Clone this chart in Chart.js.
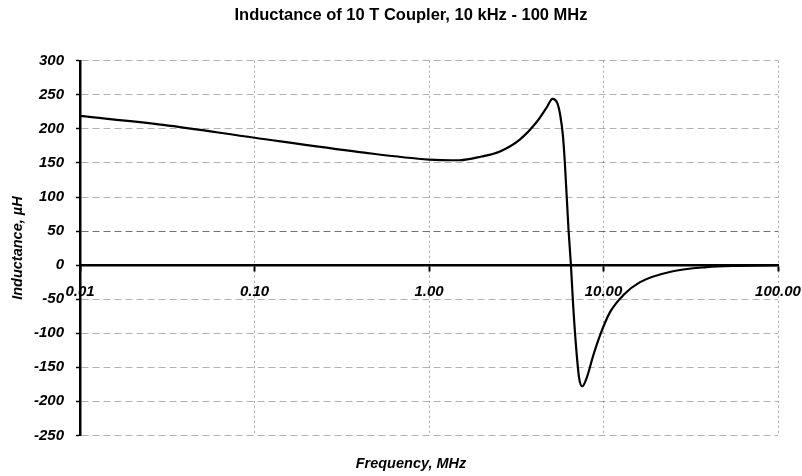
<!DOCTYPE html>
<html>
<head>
<meta charset="utf-8">
<title>Inductance of 10 T Coupler</title>
<script src="https://cdn.jsdelivr.net/npm/chart.js@4/dist/chart.umd.min.js"></script>
<style>
  html, body { margin: 0; padding: 0; background: #fff; }
  canvas { display: block; }
</style>
</head>
<body>
<canvas id="chart" width="802" height="476"></canvas>
<script>
// values
const freqMHz = [0.01, 0.03, 0.1, 0.4, 1.0, 1.5, 2.0, 2.55, 3.3, 4.15, 4.75, 5.1, 5.45, 5.65,
  5.85, 6.0, 6.3, 6.5, 6.7, 6.95, 7.25, 7.55, 8.0, 8.75, 9.55, 10.9, 13, 16.2, 25, 39, 60, 100];
const inductanceUH = [219, 206, 187, 166, 155, 154, 159.5, 167, 184, 210.5, 232.5, 244, 237, 220,
  191, 152, 53, 2, -59, -117, -166, -178, -166, -132, -103, -69, -44, -25, -9, -3, -1, 0];

const xTicks = [0.01, 0.1, 1, 10, 100];
const xTickLabels = ['0.01', '0.10', '1.00', '10.00', '100.00'];

const chartTitle = 'Inductance of 10 T Coupler, 10 kHz - 100 MHz';
const xTitle = 'Frequency, MHz';
const yTitle = 'Inductance, \u00b5H';

const points = freqMHz.map((f, i) => ({ x: f, y: inductanceUH[i] }));

const fontFamily = '"Liberation Sans", Arial, sans-serif';
const tickFont = { family: fontFamily, size: 15, weight: 'bold', style: 'italic' };
const titleFont = { family: fontFamily, size: 14.5, weight: 'bold', style: 'italic' };

const ctx = document.getElementById('chart').getContext('2d');

new Chart(ctx, {
  type: 'scatter',
  data: {
    datasets: [{
      data: points,
      showLine: true,
      borderColor: '#000',
      borderWidth: 2.2,
      pointRadius: 0,
      fill: false,
      cubicInterpolationMode: 'monotone'
    }]
  },
  options: {
    responsive: false,
    animation: false,
    layout: { padding: { left: 20, right: 0, top: 0, bottom: 0 } },
    plugins: {
      legend: { display: false },
      tooltip: { enabled: false },
      title: {
        display: true,
        text: chartTitle,
        color: '#000',
        font: { family: fontFamily, size: 16.5, weight: 'bold' },
        padding: { top: 6, bottom: 35 }
      },
      subtitle: {
        display: true,
        position: 'bottom',
        text: xTitle,
        color: '#000',
        font: titleFont,
        padding: { top: 19.6, bottom: 3.6 }
      }
    },
    scales: {
      x: {
        type: 'logarithmic',
        position: { y: 0 },
        min: 0.01,
        max: 100,
        afterBuildTicks: scale => {
          scale.ticks = xTicks.map(v => ({ value: v }));
        },
        afterFit: scale => { scale.paddingRight = 24; },
        ticks: {
          autoSkip: false,
          maxRotation: 0,
          color: '#000',
          font: tickFont,
          padding: 13,
          callback: (value, index) => xTickLabels[index]
        },
        grid: {
          color: 'rgba(0,0,0,0.35)',
          lineWidth: 1,
          tickColor: '#000',
          tickLength: 5,
          tickWidth: 2
        },
        border: { display: true, color: '#000', width: 2.5, dash: [2, 3] }
      },
      y: {
        min: -250,
        max: 300,
        afterFit: scale => { scale.width = 60; },
        ticks: {
          stepSize: 50,
          color: '#000',
          font: tickFont,
          padding: 12
        },
        grid: {
          color: ctx => ctx.tick && ctx.tick.value === 50 ? 'rgba(0,0,0,0.55)' : 'rgba(0,0,0,0.3)',
          lineWidth: 1,
          tickColor: '#000',
          tickLength: 4,
          tickWidth: 1.5
        },
        border: { display: true, color: '#000', width: 2.5, dash: [7, 4] },
        title: {
          display: true,
          text: yTitle,
          color: '#000',
          font: titleFont,
          padding: { top: -11, bottom: 0 }
        }
      }
    }
  }
});
</script>
</body>
</html>
